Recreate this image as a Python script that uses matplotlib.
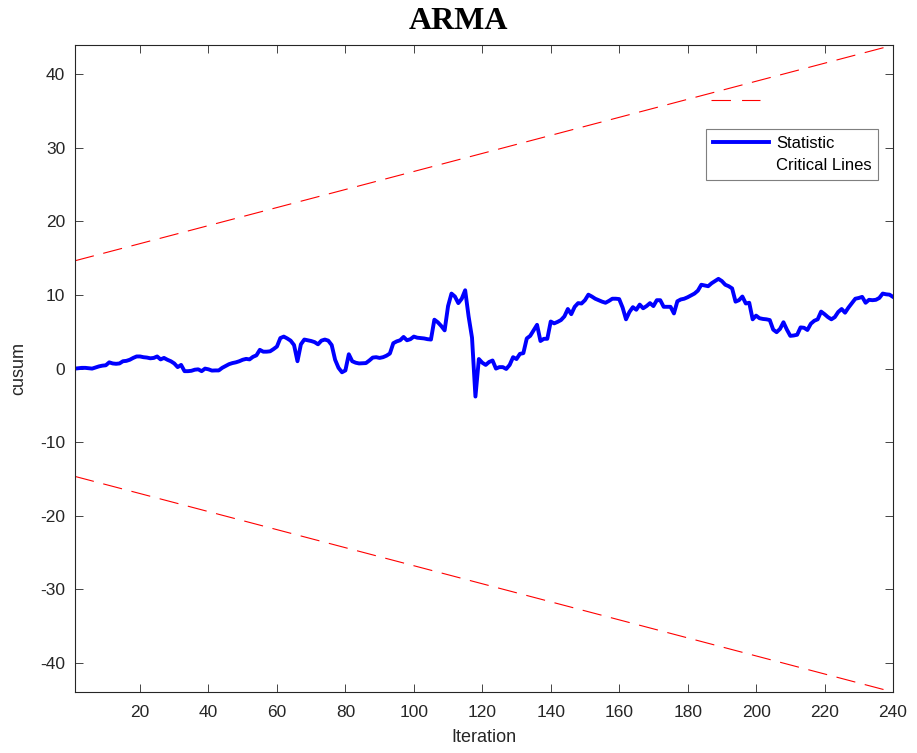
import numpy as np
import matplotlib
matplotlib.use('Agg')
import matplotlib.pyplot as plt
from matplotlib.lines import Line2D

# CUSUM statistic (iterations 1..240)
iteration = np.arange(1, 241)
cusum = [
    0.0, 0.05, 0.1, 0.1, 0.05, 0.0, 0.15, 0.3, 0.4, 0.45,
    0.85, 0.7, 0.65, 0.7, 1.0, 1.05, 1.2, 1.45, 1.65, 1.65,
    1.55, 1.5, 1.4, 1.45, 1.65, 1.25, 1.45, 1.2, 1.0, 0.7,
    0.2, 0.5, -0.35, -0.35, -0.3, -0.15, -0.1, -0.35, 0.0, -0.1,
    -0.27, -0.25, -0.25, 0.1, 0.35, 0.6, 0.75, 0.85, 1.0, 1.2,
    1.32, 1.25, 1.6, 1.8, 2.55, 2.3, 2.3, 2.35, 2.65, 3.0,
    4.15, 4.35, 4.1, 3.8, 3.2, 1.0, 3.3, 3.95, 3.85, 3.75,
    3.6, 3.3, 3.8, 3.95, 3.8, 3.2, 1.2, 0.1, -0.5, -0.25,
    1.95, 1.0, 0.8, 0.7, 0.72, 0.75, 1.1, 1.5, 1.55, 1.45,
    1.55, 1.75, 2.05, 3.45, 3.7, 3.85, 4.3, 3.85, 4.0, 4.35,
    4.2, 4.15, 4.1, 4.0, 3.95, 6.65, 6.3, 5.8, 5.2, 8.5,
    10.2, 9.8, 8.9, 9.5, 10.65, 7.1, 4.2, -3.8, 1.3, 0.8,
    0.5, 0.9, 1.1, 0.0, 0.2, 0.2, -0.05, 0.5, 1.55, 1.3,
    2.0, 2.1, 4.1, 4.45, 5.2, 5.95, 3.75, 4.05, 4.05, 6.4,
    6.15, 6.35, 6.6, 7.1, 8.1, 7.4, 8.4, 8.9, 8.85, 9.3,
    10.05, 9.8, 9.5, 9.3, 9.1, 8.95, 9.2, 9.5, 9.5, 9.45,
    8.3, 6.7, 7.7, 8.35, 8.0, 8.7, 8.2, 8.5, 8.9, 8.5,
    9.3, 9.3, 8.4, 8.4, 8.4, 7.5, 9.15, 9.4, 9.5, 9.7,
    9.95, 10.2, 10.6, 11.4, 11.3, 11.2, 11.6, 11.9, 12.2, 11.9,
    11.4, 11.2, 10.9, 9.1, 9.3, 9.8, 8.85, 8.95, 6.7, 7.2,
    6.85, 6.75, 6.7, 6.6, 5.3, 4.95, 5.4, 6.3, 5.3, 4.45,
    4.5, 4.6, 5.6, 5.55, 5.25, 6.1, 6.5, 6.7, 7.75, 7.4,
    7.0, 6.7, 7.0, 7.7, 8.1, 7.6, 8.3, 8.9, 9.5, 9.6,
    9.75, 8.95, 9.35, 9.3, 9.35, 9.6, 10.2, 10.1, 10.05, 9.75,
]

# critical lines (straight, endpoints only)
crit_x = [1, 240]
crit_upper = [14.66, 43.97]
crit_lower = [-14.66, -43.97]

xticks = list(range(20, 241, 20))
yticks = list(range(-40, 41, 10))

plt.rcParams['font.family'] = 'Liberation Sans'
plt.rcParams['lines.scale_dashes'] = False
plt.rcParams['axes.unicode_minus'] = False

fig = plt.figure(figsize=(9.17, 7.53), dpi=100)
ax = fig.add_axes([0.0818, 0.081, 0.892, 0.859])

ax.plot(crit_x, crit_upper, color='red', lw=0.8, dashes=(14, 7))
ax.plot(crit_x, crit_lower, color='red', lw=0.8, dashes=(14, 7))
stat, = ax.plot(iteration, cusum, color='#0000FF', lw=2.8)

ax.set_xlim(1, 240)
ax.set_ylim(-43.97, 43.97)
ax.set_xticks(xticks)
ax.set_yticks(yticks)
ax.tick_params(direction='in', length=6, width=0.6, top=True, right=True,
               labelsize=12.5, colors='#262626')
ax.tick_params(axis='x', pad=9)
ax.tick_params(axis='y', pad=7)
for s in ax.spines.values():
    s.set_color('#262626')
    s.set_linewidth(0.8)

ax.set_xlabel('Iteration', fontsize=13, color='#262626', labelpad=7)
ax.set_ylabel('cusum', fontsize=13, color='#262626', labelpad=9)
# title is centred on the figure, not on the axes
fig.text(0.5, 0.972, 'ARMA', fontsize=23, fontweight='bold',
         family='Liberation Serif', ha='center', va='center')

# legend (critical line handle shows up detached, as in the original)
blank = Line2D([], [], color='none')
leg = ax.legend([stat, blank], ['Statistic', 'Critical Lines'],
                loc='upper right', bbox_to_anchor=(0.982, 0.870),
                fontsize=12, frameon=True, fancybox=False, framealpha=1,
                edgecolor='#7f7f7f', handlelength=3.4, handletextpad=0.4,
                borderpad=0.4, labelspacing=0.45, borderaxespad=0)
leg.get_frame().set_linewidth(0.8)
ax.plot([0.777, 0.837], [0.915, 0.915], transform=ax.transAxes,
        color='red', lw=0.8, dashes=(14, 8))

fig.savefig('out.png', dpi=100)
